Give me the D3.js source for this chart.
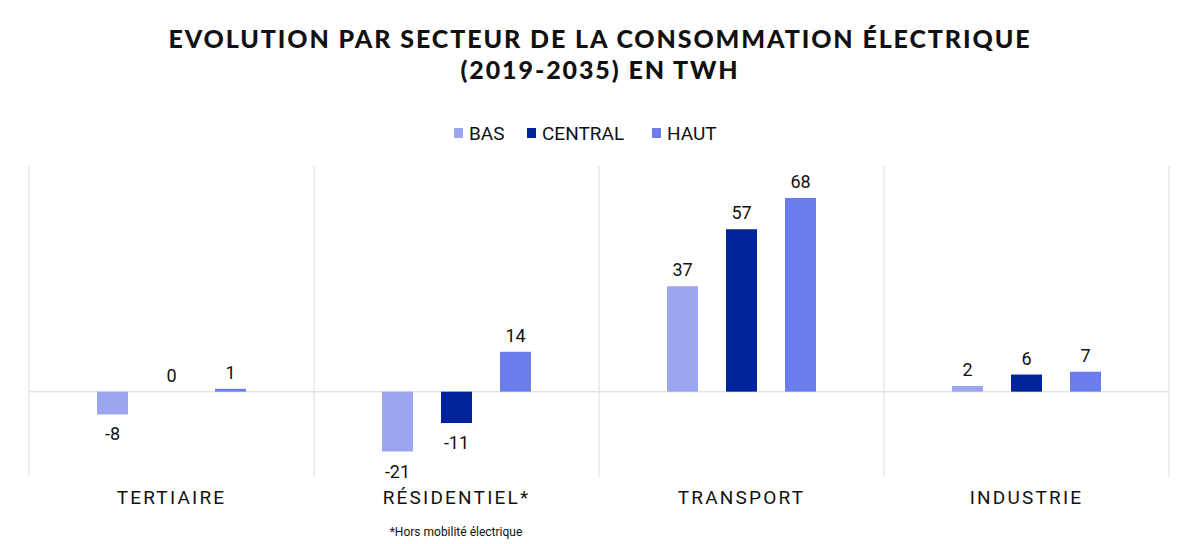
<!DOCTYPE html>
<html>
<head>
<meta charset="utf-8">
<script src="https://cdn.jsdelivr.net/npm/d3@7"></script>
<style>
  body { margin: 0; background: #fff; }
  svg { display: block; }
</style>
</head>
<body>
<svg id="chart" width="1200" height="544"></svg>
<script>
// data
var sectors = ["TERTIAIRE", "RÉSIDENTIEL*", "TRANSPORT", "INDUSTRIE"];
var scenarios = ["BAS", "CENTRAL", "HAUT"];
var bas = [-8, -21, 37, 2];
var central = [0, -11, 57, 6];
var haut = [1, 14, 68, 7];
var titleLines = ["EVOLUTION PAR SECTEUR DE LA CONSOMMATION ÉLECTRIQUE", "(2019-2035) EN TWH"];
var footnote = "*Hors mobilité électrique";

var colors = { BAS: "#9ba6f0", CENTRAL: "#00239c", HAUT: "#6b7dea" };
var values = { BAS: bas, CENTRAL: central, HAUT: haut };

var svg = d3.select("#chart"),
    margin = {top: 166, right: 31, bottom: 66, left: 29},
    width = +svg.attr("width") - margin.left - margin.right,
    height = +svg.attr("height") - margin.top - margin.bottom,
    g = svg.append("g").attr("transform", "translate(" + margin.left + "," + margin.top + ")");

var x0 = d3.scaleBand().domain(sectors).range([0, width]).padding(0);
var groupW = 149;
var x1 = d3.scaleBand().domain(scenarios)
    .range([x0.bandwidth() / 2 - groupW / 2, x0.bandwidth() / 2 + groupW / 2])
    .paddingInner(0.4746).paddingOuter(0);
// y: 68 TWh sits 194px above the zero line
var y = d3.scaleLinear().domain([-30.3, 79.2]).range([height, 0]);

// title
svg.append("g").selectAll("text")
    .data(titleLines)
  .enter().append("text")
    .attr("x", 600)
    .attr("y", function(d, i) { return 48 + i * 31; })
    .attr("text-anchor", "middle")
    .style("font-family", "Lato, 'DejaVu Sans', sans-serif")
    .style("font-weight", "900")
    .style("font-size", "25px")
    .style("letter-spacing", "1.9px")
    .attr("fill", "#111")
    .text(function(d) { return d; });

// legend
var legendX = [454, 527, 652];
var legend = svg.append("g").selectAll("g")
    .data(scenarios)
  .enter().append("g")
    .attr("transform", function(d, i) { return "translate(" + legendX[i] + ",128)"; });
legend.append("rect")
    .attr("width", 9).attr("height", 10)
    .attr("fill", function(d) { return colors[d]; });
legend.append("text")
    .attr("x", 15).attr("y", 12)
    .style("font-family", "Roboto, 'Noto Sans', sans-serif")
    .style("font-size", "19px")
    .attr("fill", "#111")
    .text(function(d) { return d; });

// vertical separators
g.append("g").selectAll("line")
    .data(sectors.concat(["end"]))
  .enter().append("line")
    .attr("x1", function(d, i) { return i * x0.bandwidth(); })
    .attr("x2", function(d, i) { return i * x0.bandwidth(); })
    .attr("y1", 0).attr("y2", height - 1)
    .attr("stroke", "#e3e3e6").attr("stroke-width", 1.2);

// zero line
g.append("line")
    .attr("x1", 0).attr("x2", width)
    .attr("y1", y(0)).attr("y2", y(0))
    .attr("stroke", "#e3e3e6").attr("stroke-width", 1.5);

// bars
var groups = g.append("g").selectAll("g")
    .data(sectors)
  .enter().append("g")
    .attr("transform", function(d) { return "translate(" + x0(d) + ",0)"; });

var cells = groups.selectAll("g")
    .data(function(d, i) { return scenarios.map(function(s) { return {key: s, value: values[s][i]}; }); })
  .enter().append("g");

cells.append("rect")
    .attr("x", function(d) { return x1(d.key); })
    .attr("width", x1.bandwidth())
    .attr("y", function(d) { return y(Math.max(0, d.value)); })
    .attr("height", function(d) { return Math.abs(y(d.value) - y(0)); })
    .attr("fill", function(d) { return colors[d.key]; });

cells.append("text")
    .attr("x", function(d) { return x1(d.key) + x1.bandwidth() / 2; })
    .attr("y", function(d) { return d.value < 0 ? y(d.value) + 26 : y(d.value) - 10; })
    .attr("text-anchor", "middle")
    .style("font-family", "Roboto, 'Noto Sans', sans-serif")
    .style("font-size", "18px")
    .attr("fill", "#111")
    .text(function(d) { return d.value; });

// category axis
var xAxis = g.append("g")
    .attr("transform", "translate(0," + height + ")")
    .call(d3.axisBottom(x0).tickSize(0).tickPadding(13));
xAxis.select(".domain").remove();
xAxis.selectAll("text")
    .style("font-family", "Roboto, 'Noto Sans', sans-serif")
    .style("font-size", "19px")
    .style("letter-spacing", "2.2px")
    .attr("fill", "#111");

// footnote
svg.append("text")
    .attr("x", 456).attr("y", 536)
    .attr("text-anchor", "middle")
    .style("font-family", "Roboto, 'Noto Sans', sans-serif")
    .style("font-size", "12px")
    .attr("fill", "#111")
    .text(footnote);
</script>
</body>
</html>
